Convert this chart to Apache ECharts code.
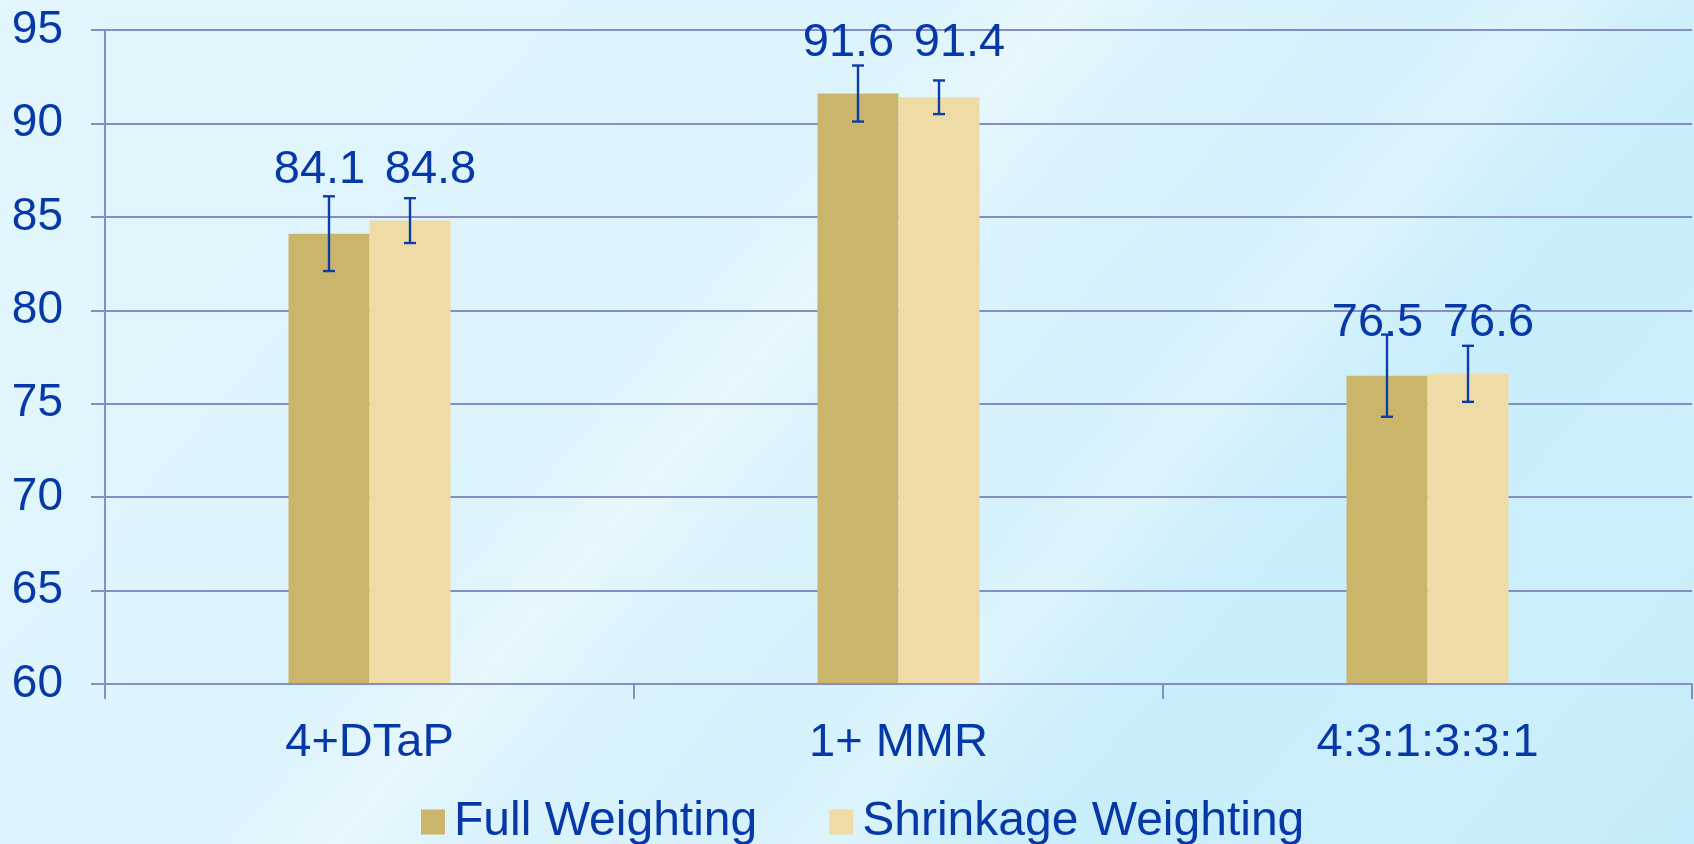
<!DOCTYPE html>
<html>
<head>
<meta charset="utf-8">
<title>Coverage by weighting method</title>
<script src="https://cdn.jsdelivr.net/npm/echarts@6/dist/echarts.min.js"></script>
<style>
  html, body { margin: 0; padding: 0; width: 1694px; height: 844px; overflow: hidden; }
  body {
    background:
      linear-gradient(131deg,
        rgba(255,255,255,0) 0%, rgba(255,255,255,0) 38%,
        rgba(255,255,255,0.35) 44%, rgba(255,255,255,0) 50%,
        rgba(255,255,255,0) 60%, rgba(255,255,255,0.25) 64%, rgba(255,255,255,0) 68%),
      linear-gradient(131deg, #e3f6fd 0%, #ddf4fc 35%, #d8f2fc 55%, #d2f1fb 66%, #c8eefb 74%, #ccefFB 86%, #c5ecfa 100%);
  }
  #chart { width: 1694px; height: 844px; }
</style>
</head>
<body>
<div id="chart"></div>
<script>
// Coverage estimates (%) with their error margins, per vaccine series
const categories = ['4+DTaP', '1+ MMR', '4:3:1:3:3:1'];
const seriesNames = ['Full Weighting', 'Shrinkage Weighting'];
const fullWeighting = [84.1, 91.6, 76.5];
const shrinkageWeighting = [84.8, 91.4, 76.6];
const fullError = [2.0, 1.5, 2.2];
const shrinkageError = [1.2, 0.9, 1.5];
const yMin = 60;
const yMax = 95;
const yStep = 5;

const FONT = "'Liberation Sans', Arial, sans-serif";
const TEXT_BLUE = '#0638a8';
const ERR_BLUE = '#0d3dab';
const GRID_COLOR = '#858dc4';
const DARK_BAR = '#cbb56a';
const LIGHT_BAR = '#efdba5';
const BAR_WIDTH = 81;
const CAP_HALF = 6;
const LABEL_FONT = 47;

function errorBars(offset) {
  return function (params, api) {
    const i = api.value(0);
    const top = api.coord([i, api.value(2)]);
    const bot = api.coord([i, api.value(1)]);
    const x = Math.round(top[0] + offset);
    const style = { stroke: ERR_BLUE, lineWidth: 2.4 };
    return {
      type: 'group',
      children: [
        { type: 'line', shape: { x1: x, y1: top[1], x2: x, y2: bot[1] }, style },
        { type: 'line', shape: { x1: x - CAP_HALF, y1: top[1], x2: x + CAP_HALF, y2: top[1] }, style },
        { type: 'line', shape: { x1: x - CAP_HALF, y1: bot[1], x2: x + CAP_HALF, y2: bot[1] }, style }
      ]
    };
  };
}

// Both values of a category share one text row above the taller bar
function valueLabels(params, api) {
  const i = api.value(0);
  const a = api.value(1);
  const b = api.value(2);
  const p = api.coord([i, Math.max(a, b)]);
  const y = p[1] - 34 - LABEL_FONT * 0.35;
  const mk = (x, v) => ({
    type: 'text',
    style: {
      x: x, y: y, text: v.toFixed(1),
      fill: TEXT_BLUE, fontSize: LABEL_FONT, fontFamily: FONT,
      align: 'center', verticalAlign: 'middle'
    }
  });
  return { type: 'group', children: [mk(p[0] - 50, a), mk(p[0] + 61, b)] };
}

const chart = echarts.init(document.getElementById('chart'), null, { renderer: 'canvas' });

chart.setOption({
  backgroundColor: 'transparent',
  animation: false,
  textStyle: { fontFamily: FONT },
  grid: { left: 105, right: 2, top: 30, bottom: 160, containLabel: false },
  legend: {
    data: seriesNames,
    left: 421,
    top: 798,
    padding: 0,
    itemWidth: 24,
    itemHeight: 25,
    itemGap: 72,
    icon: 'rect',
    textStyle: { color: TEXT_BLUE, fontSize: 48, fontFamily: FONT, padding: [0, 0, 0, 4] }
  },
  xAxis: {
    type: 'category',
    data: categories,
    z: 3,
    axisLine: { lineStyle: { color: GRID_COLOR, width: 2 } },
    axisTick: { show: true, length: 15, lineStyle: { color: GRID_COLOR, width: 2 } },
    axisLabel: { color: TEXT_BLUE, fontSize: 47, fontFamily: FONT, margin: 36 }
  },
  yAxis: {
    type: 'value',
    min: yMin,
    max: yMax,
    interval: yStep,
    axisLine: { show: true, lineStyle: { color: GRID_COLOR, width: 2 } },
    axisTick: { show: true, length: 14, lineStyle: { color: GRID_COLOR, width: 2 } },
    axisLabel: { color: TEXT_BLUE, fontSize: 46, fontFamily: FONT, margin: 42, padding: [5, 0, 0, 0] },
    splitLine: { show: true, lineStyle: { color: GRID_COLOR, width: 2 } }
  },
  series: [
    {
      name: seriesNames[0],
      type: 'bar',
      data: fullWeighting,
      barWidth: BAR_WIDTH,
      barGap: '0%',
      itemStyle: { color: DARK_BAR }
    },
    {
      name: seriesNames[1],
      type: 'bar',
      data: shrinkageWeighting,
      barWidth: BAR_WIDTH,
      barGap: '0%',
      itemStyle: { color: LIGHT_BAR }
    },
    {
      name: 'err-full',
      type: 'custom',
      z: 5,
      renderItem: errorBars(-BAR_WIDTH / 2),
      encode: { x: 0, y: [1, 2] },
      data: fullWeighting.map((v, i) => [i, v - fullError[i], v + fullError[i]])
    },
    {
      name: 'err-shrinkage',
      type: 'custom',
      z: 5,
      renderItem: errorBars(BAR_WIDTH / 2),
      encode: { x: 0, y: [1, 2] },
      data: shrinkageWeighting.map((v, i) => [i, v - shrinkageError[i], v + shrinkageError[i]])
    },
    {
      name: 'values',
      type: 'custom',
      z: 6,
      clip: false,
      renderItem: valueLabels,
      encode: { x: 0, y: [1, 2] },
      data: categories.map((c, i) => [i, fullWeighting[i], shrinkageWeighting[i]])
    }
  ]
});
</script>
</body>
</html>
